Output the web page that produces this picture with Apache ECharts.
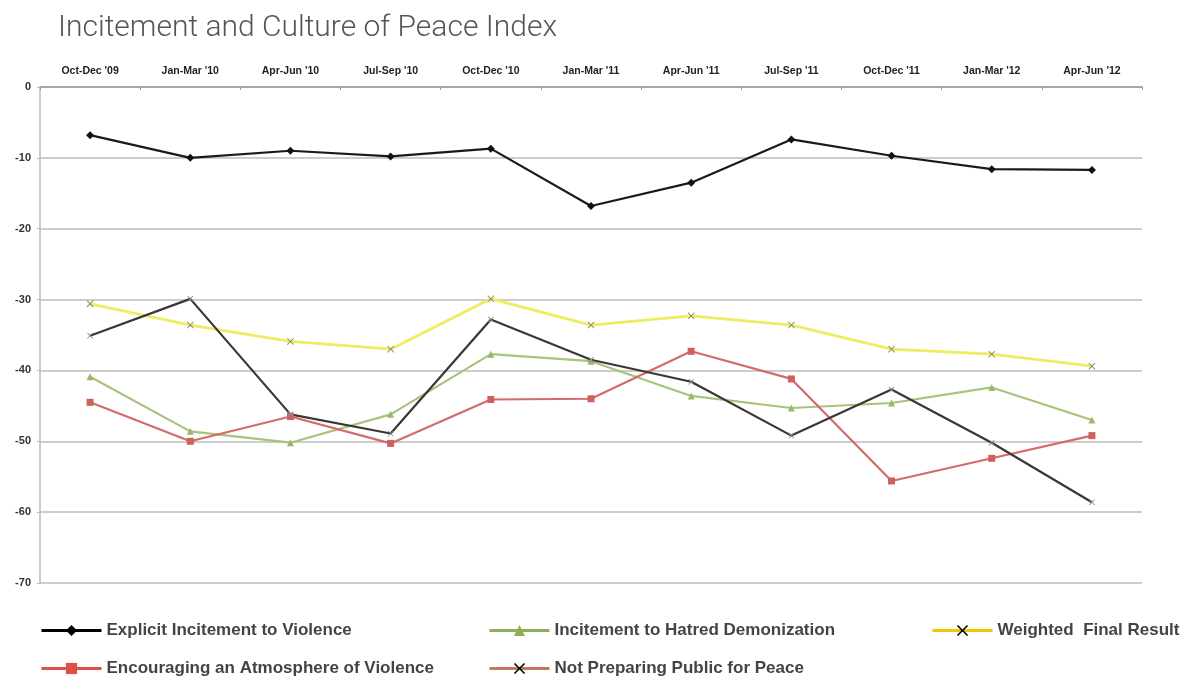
<!DOCTYPE html>
<html>
<head>
<meta charset="utf-8">
<script src="https://cdn.jsdelivr.net/npm/echarts@6/dist/echarts.min.js"></script>
<style>
  html, body { margin: 0; padding: 0; background: #fff; }
  #chart { width: 1194px; height: 676px; }
</style>
</head>
<body>
<div id="chart"></div>
<script>
// quarters along the top axis
var quarters = ['Oct-Dec \'09', 'Jan-Mar \'10', 'Apr-Jun \'10', 'Jul-Sep \'10', 'Oct-Dec \'10',
  'Jan-Mar \'11', 'Apr-Jun \'11', 'Jul-Sep \'11', 'Oct-Dec \'11', 'Jan-Mar \'12', 'Apr-Jun \'12']

// values
var explicitIncitement = [-6.8, -10.0, -9.0, -9.8, -8.7, -16.8, -13.5, -7.4, -9.7, -11.6, -11.7]
var hatredDemonization = [-40.9, -48.6, -50.2, -46.2, -37.7, -38.7, -43.6, -45.3, -44.6, -42.4, -47.0]
var weightedResult = [-30.6, -33.6, -35.9, -37.0, -29.9, -33.6, -32.3, -33.6, -37.0, -37.7, -39.4]
var atmosphereViolence = [-44.5, -50.0, -46.5, -50.3, -44.1, -44.0, -37.3, -41.2, -55.6, -52.4, -49.2]
var notPreparing = [-35.1, -29.9, -46.2, -48.9, -32.8, -38.5, -41.6, -49.2, -42.7, -50.2, -58.6]

var yTicks = [0, -10, -20, -30, -40, -50, -60, -70]

var xShape = 'path://M0,1L1,0L5,4L9,0L10,1L6,5L10,9L9,10L5,6L1,10L0,9L4,5Z'

var legendText = {
  fontFamily: 'Liberation Sans',
  fontWeight: 'bold',
  fontSize: 17,
  color: '#444'
}

function legendAt(left, top, item) {
  return {
    left: left,
    top: top,
    padding: 0,
    itemWidth: 60,
    itemHeight: 14,
    selectedMode: false,
    textStyle: legendText,
    data: [item]
  }
}

var chart = echarts.init(document.getElementById('chart'))

var option = {
  backgroundColor: '#fff',
  animation: false,
  title: {
    text: 'Incitement and Culture of Peace Index',
    left: 58,
    top: 13,
    padding: 0,
    textStyle: {
      fontFamily: 'Roboto',
      fontWeight: 300,
      fontSize: 30,
      color: '#555'
    }
  },
  legend: [
    legendAt(40, 622, { name: 'Explicit Incitement to Violence', itemStyle: { color: '#000' }, lineStyle: { color: '#000', width: 3 } }),
    legendAt(488, 622, { name: 'Incitement to Hatred Demonization', itemStyle: { color: '#8fae5a' }, lineStyle: { color: '#8fae5a', width: 3 } }),
    legendAt(931, 622, { name: 'Weighted  Final Result', itemStyle: { color: '#000' }, lineStyle: { color: '#f5c400', width: 3 } }),
    legendAt(40, 660, { name: 'Encouraging an Atmosphere of Violence', itemStyle: { color: '#dc5046' }, lineStyle: { color: '#dc5046', width: 3 } }),
    legendAt(488, 660, { name: 'Not Preparing Public for Peace', itemStyle: { color: '#000' }, lineStyle: { color: '#c27a5e', width: 3 } })
  ],
  grid: {
    left: 40,
    right: 52,
    top: 87,
    bottom: 93,
    containLabel: false
  },
  xAxis: {
    type: 'category',
    position: 'top',
    data: quarters,
    boundaryGap: true,
    axisLine: { lineStyle: { color: '#9a9a9a', width: 1.5 } },
    axisTick: { show: true, inside: true, length: 3, lineStyle: { color: '#9a9a9a' } },
    axisLabel: {
      margin: 10,
      fontFamily: 'Liberation Sans',
      fontWeight: 'bold',
      fontSize: 10.5,
      color: '#222'
    },
    splitLine: { show: false }
  },
  yAxis: {
    type: 'value',
    min: -70,
    max: 0,
    interval: 10,
    axisLine: { show: true, lineStyle: { color: '#bbb', width: 1.5 } },
    axisTick: { show: true, length: 3, lineStyle: { color: '#bbb' } },
    axisLabel: {
      margin: 9,
      fontFamily: 'Liberation Sans',
      fontWeight: 'bold',
      fontSize: 11,
      color: '#333',
      formatter: function (v) { return yTicks.indexOf(v) >= 0 ? String(v) : '' }
    },
    splitLine: { show: true, lineStyle: { color: '#bdbdbd', width: 1.5 } }
  },
  series: [
    {
      name: 'Explicit Incitement to Violence',
      type: 'line',
      data: explicitIncitement,
      symbol: 'diamond',
      symbolSize: 8,
      itemStyle: { color: '#111' },
      lineStyle: { color: '#1a1a1a', width: 2.2 },
      z: 5
    },
    {
      name: 'Incitement to Hatred Demonization',
      type: 'line',
      data: hatredDemonization,
      symbol: 'triangle',
      symbolSize: 7,
      itemStyle: { color: '#9ab86a' },
      lineStyle: { color: '#a6c47c', width: 2.2 }
    },
    {
      name: 'Weighted  Final Result',
      type: 'line',
      data: weightedResult,
      symbol: xShape,
      symbolSize: 7,
      itemStyle: { color: '#8b8b6a' },
      lineStyle: { color: '#eded60', width: 2.8 }
    },
    {
      name: 'Encouraging an Atmosphere of Violence',
      type: 'line',
      data: atmosphereViolence,
      symbol: 'rect',
      symbolSize: 7,
      itemStyle: { color: '#d0605e' },
      lineStyle: { color: '#d46a6a', width: 2.2 }
    },
    {
      name: 'Not Preparing Public for Peace',
      type: 'line',
      data: notPreparing,
      symbol: xShape,
      symbolSize: 6,
      itemStyle: { color: '#8a8a8a' },
      lineStyle: { color: '#3b3535', width: 2.2 }
    }
  ]
}

chart.setOption(option)
</script>
</body>
</html>
